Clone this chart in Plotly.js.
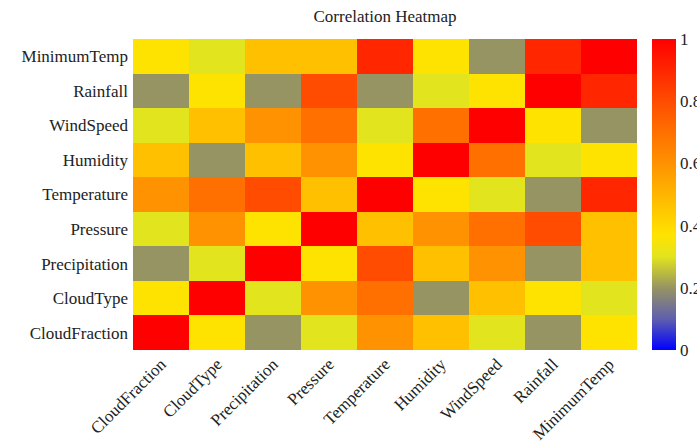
<!DOCTYPE html>
<html>
<head>
<meta charset="utf-8">
<script src="https://cdn.plot.ly/plotly-3.0.1.min.js"></script>
<style>html,body{margin:0;padding:0;background:#fff;}#chart{width:697px;height:448px;}</style>
</head>
<body>
<div id="chart"></div>
<script>
// Column (x) categories, left to right
const xLabels = ["CloudFraction","CloudType","Precipitation","Pressure","Temperature","Humidity","WindSpeed","Rainfall","MinimumTemp"];
// Row (y) categories, bottom to top
const yLabels = ["CloudFraction","CloudType","Precipitation","Pressure","Temperature","Humidity","WindSpeed","Rainfall","MinimumTemp"];

// Correlation values per row, columns in xLabels order
const rowCloudFraction = [1.00, 0.37, 0.20, 0.30, 0.60, 0.47, 0.30, 0.20, 0.37];
const rowCloudType     = [0.37, 1.00, 0.30, 0.60, 0.70, 0.20, 0.47, 0.37, 0.30];
const rowPrecipitation = [0.20, 0.30, 1.00, 0.37, 0.80, 0.47, 0.60, 0.20, 0.47];
const rowPressure      = [0.30, 0.60, 0.37, 1.00, 0.47, 0.60, 0.70, 0.80, 0.47];
const rowTemperature   = [0.60, 0.70, 0.80, 0.47, 1.00, 0.37, 0.30, 0.20, 0.90];
const rowHumidity      = [0.47, 0.20, 0.47, 0.60, 0.37, 1.00, 0.70, 0.30, 0.37];
const rowWindSpeed     = [0.30, 0.47, 0.60, 0.70, 0.30, 0.70, 1.00, 0.37, 0.20];
const rowRainfall      = [0.20, 0.37, 0.20, 0.80, 0.20, 0.30, 0.37, 1.00, 0.90];
const rowMinimumTemp   = [0.37, 0.30, 0.47, 0.47, 0.90, 0.37, 0.20, 0.90, 1.00];

const zValues = [rowCloudFraction, rowCloudType, rowPrecipitation, rowPressure, rowTemperature,
                 rowHumidity, rowWindSpeed, rowRainfall, rowMinimumTemp];

const colorbarTicks = [0, 0.2, 0.4, 0.6, 0.8, 1];

const colorscale = [
  [0.00, "rgb(0,0,255)"],
  [0.10, "rgb(95,95,175)"],
  [0.20, "rgb(150,148,98)"],
  [0.30, "rgb(226,228,30)"],
  [0.37, "rgb(255,227,0)"],
  [0.47, "rgb(255,192,0)"],
  [0.60, "rgb(255,146,0)"],
  [0.70, "rgb(255,112,0)"],
  [0.80, "rgb(255,76,0)"],
  [0.90, "rgb(255,38,0)"],
  [1.00, "rgb(255,0,0)"]
];

const fontFam = "Liberation Serif, Times New Roman, serif";

const trace = {
  type: "heatmap",
  x: xLabels,
  y: yLabels,
  z: zValues,
  zmin: 0,
  zmax: 1,
  colorscale: colorscale,
  showscale: true,
  xgap: 0, ygap: 0,
  colorbar: {
    x: 1.03, xanchor: "left",
    y: 0.5, yanchor: "middle", len: 1.0, lenmode: "fraction",
    thickness: 24, thicknessmode: "pixels",
    outlinewidth: 0,
    tickvals: colorbarTicks,
    ticktext: colorbarTicks.map(String),
    ticks: "",
    tickfont: {family: fontFam, size: 17, color: "#222"},
    ypad: 0, xpad: 0
  }
};

const layout = {
  width: 697, height: 448,
  margin: {l: 133, r: 60, t: 39, b: 98, autoexpand: false},
  paper_bgcolor: "#fff",
  plot_bgcolor: "#fff",
  title: {text: "Correlation Heatmap", x: 0.5, xref: "paper", xanchor: "center", y: 0.965, yanchor: "middle",
          font: {family: fontFam, size: 17, color: "#222"}},
  xaxis: {tickangle: -45, tickfont: {family: fontFam, size: 17, color: "#222"}, ticks: "", showgrid: false, zeroline: false, showline: false, automargin: false},
  yaxis: {tickfont: {family: fontFam, size: 17, color: "#222"}, ticks: "", showgrid: false, zeroline: false, showline: false, ticklabelstandoff: 4, automargin: false},
  font: {family: fontFam}
};

Plotly.newPlot("chart", [trace], layout, {displayModeBar: false, staticPlot: true});
</script>
</body>
</html>
